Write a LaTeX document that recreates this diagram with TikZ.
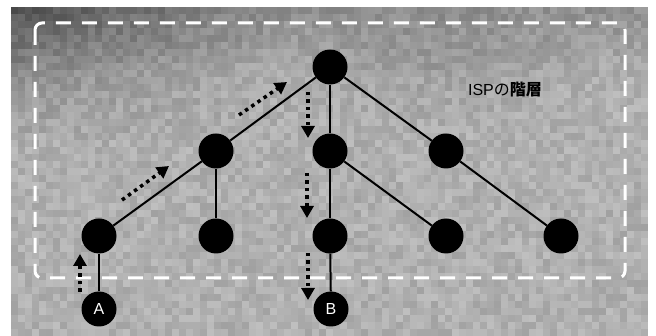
\documentclass[tikz,border=0pt]{standalone}
\usepackage{fontspec}
\setmainfont{Liberation Sans}
\newfontfamily\cjk{Noto Sans CJK JP}
\usetikzlibrary{arrows.meta}
\begin{document}
\begin{tikzpicture}[x=1pt,y=-1pt,
  dot/.style={circle,fill=black,inner sep=0pt,minimum size=35pt},
  edge/.style={line width=2pt},
  flow/.style={line width=3.5pt,dash pattern=on 3.5pt off 4pt,-{Triangle[width=13pt,length=12pt]}},
  frame/.style={white,line width=3pt,dash pattern=on 15pt off 11pt,rounded corners=7pt},
  lbl/.style={text=white,font=\fontsize{16}{16}\selectfont},
  title/.style={font=\fontsize{16}{16}\selectfont}]
\useasboundingbox (0,0) rectangle (656,336);
\fill[white] (0,0) rectangle (656,336);
\begin{scope}
\clip (11,7) rectangle (648,336);
\fill[black!36] (11,7) rectangle (648,336);
\pgfmathsetseed{7}
\foreach \i in {0,...,90} {
  \foreach \j in {0,...,47} {
    \pgfmathsetmacro{\d}{25+12*rnd+24*max(0,1-\i/40)*max(0,1-\j/20)+12*max(0,1-\j/10)+6*max(0,1-abs(\i-60)/25)*max(0,1-abs(\j-8)/10)}
    \fill[black!\d] ({11+7*\i},{7+7*\j}) rectangle +(7.2,7.2);
  }
}
\end{scope}
\draw[frame] (35,23) rectangle (625,278);
% nodes
\node[dot] (root) at (330,67) {};
\node[dot] (l2a) at (216,151) {};
\node[dot] (l2b) at (330,151) {};
\node[dot] (l2c) at (446,151) {};
\node[dot] (l3a) at (99,236) {};
\node[dot] (l3b) at (216,236) {};
\node[dot] (l3c) at (330,236) {};
\node[dot] (l3d) at (446,236) {};
\node[dot] (l3e) at (561,236) {};
\node[dot,lbl] (A) at (99,309) {A};
\node[dot,lbl] (B) at (331,309) {B};
% edges
\draw[edge] (root) -- (l2a);
\draw[edge] (root) -- (l2b);
\draw[edge] (root) -- (l2c);
\draw[edge] (l2a) -- (l3a);
\draw[edge] (l2a) -- (l3b);
\draw[edge] (l2b) -- (l3c);
\draw[edge] (l2b) -- (l3d);
\draw[edge] (l2c) -- (l3e);
\draw[edge] (l3a) -- (A);
\draw[edge] (l3c) -- (B);
% flow arrows
\coordinate (a1s) at (80,292); \coordinate (a1e) at (80,254);
\coordinate (a2s) at (122,200); \coordinate (a2e) at (169,166);
\coordinate (a3s) at (239,115); \coordinate (a3e) at (287,82);
\coordinate (a4s) at (308,92); \coordinate (a4e) at (308,138);
\coordinate (a5s) at (307,173); \coordinate (a5e) at (307,218);
\coordinate (a6s) at (308,253); \coordinate (a6e) at (308,300);
\draw[flow] (a1s) -- (a1e);
\draw[flow] (a2s) -- (a2e);
\draw[flow] (a3s) -- (a3e);
\draw[flow] (a4s) -- (a4e);
\draw[flow] (a5s) -- (a5e);
\draw[flow] (a6s) -- (a6e);
\node[title] (isp) at (505,90) {ISP{\cjk の{\bfseries 階層}}};
\end{tikzpicture}
\end{document}
